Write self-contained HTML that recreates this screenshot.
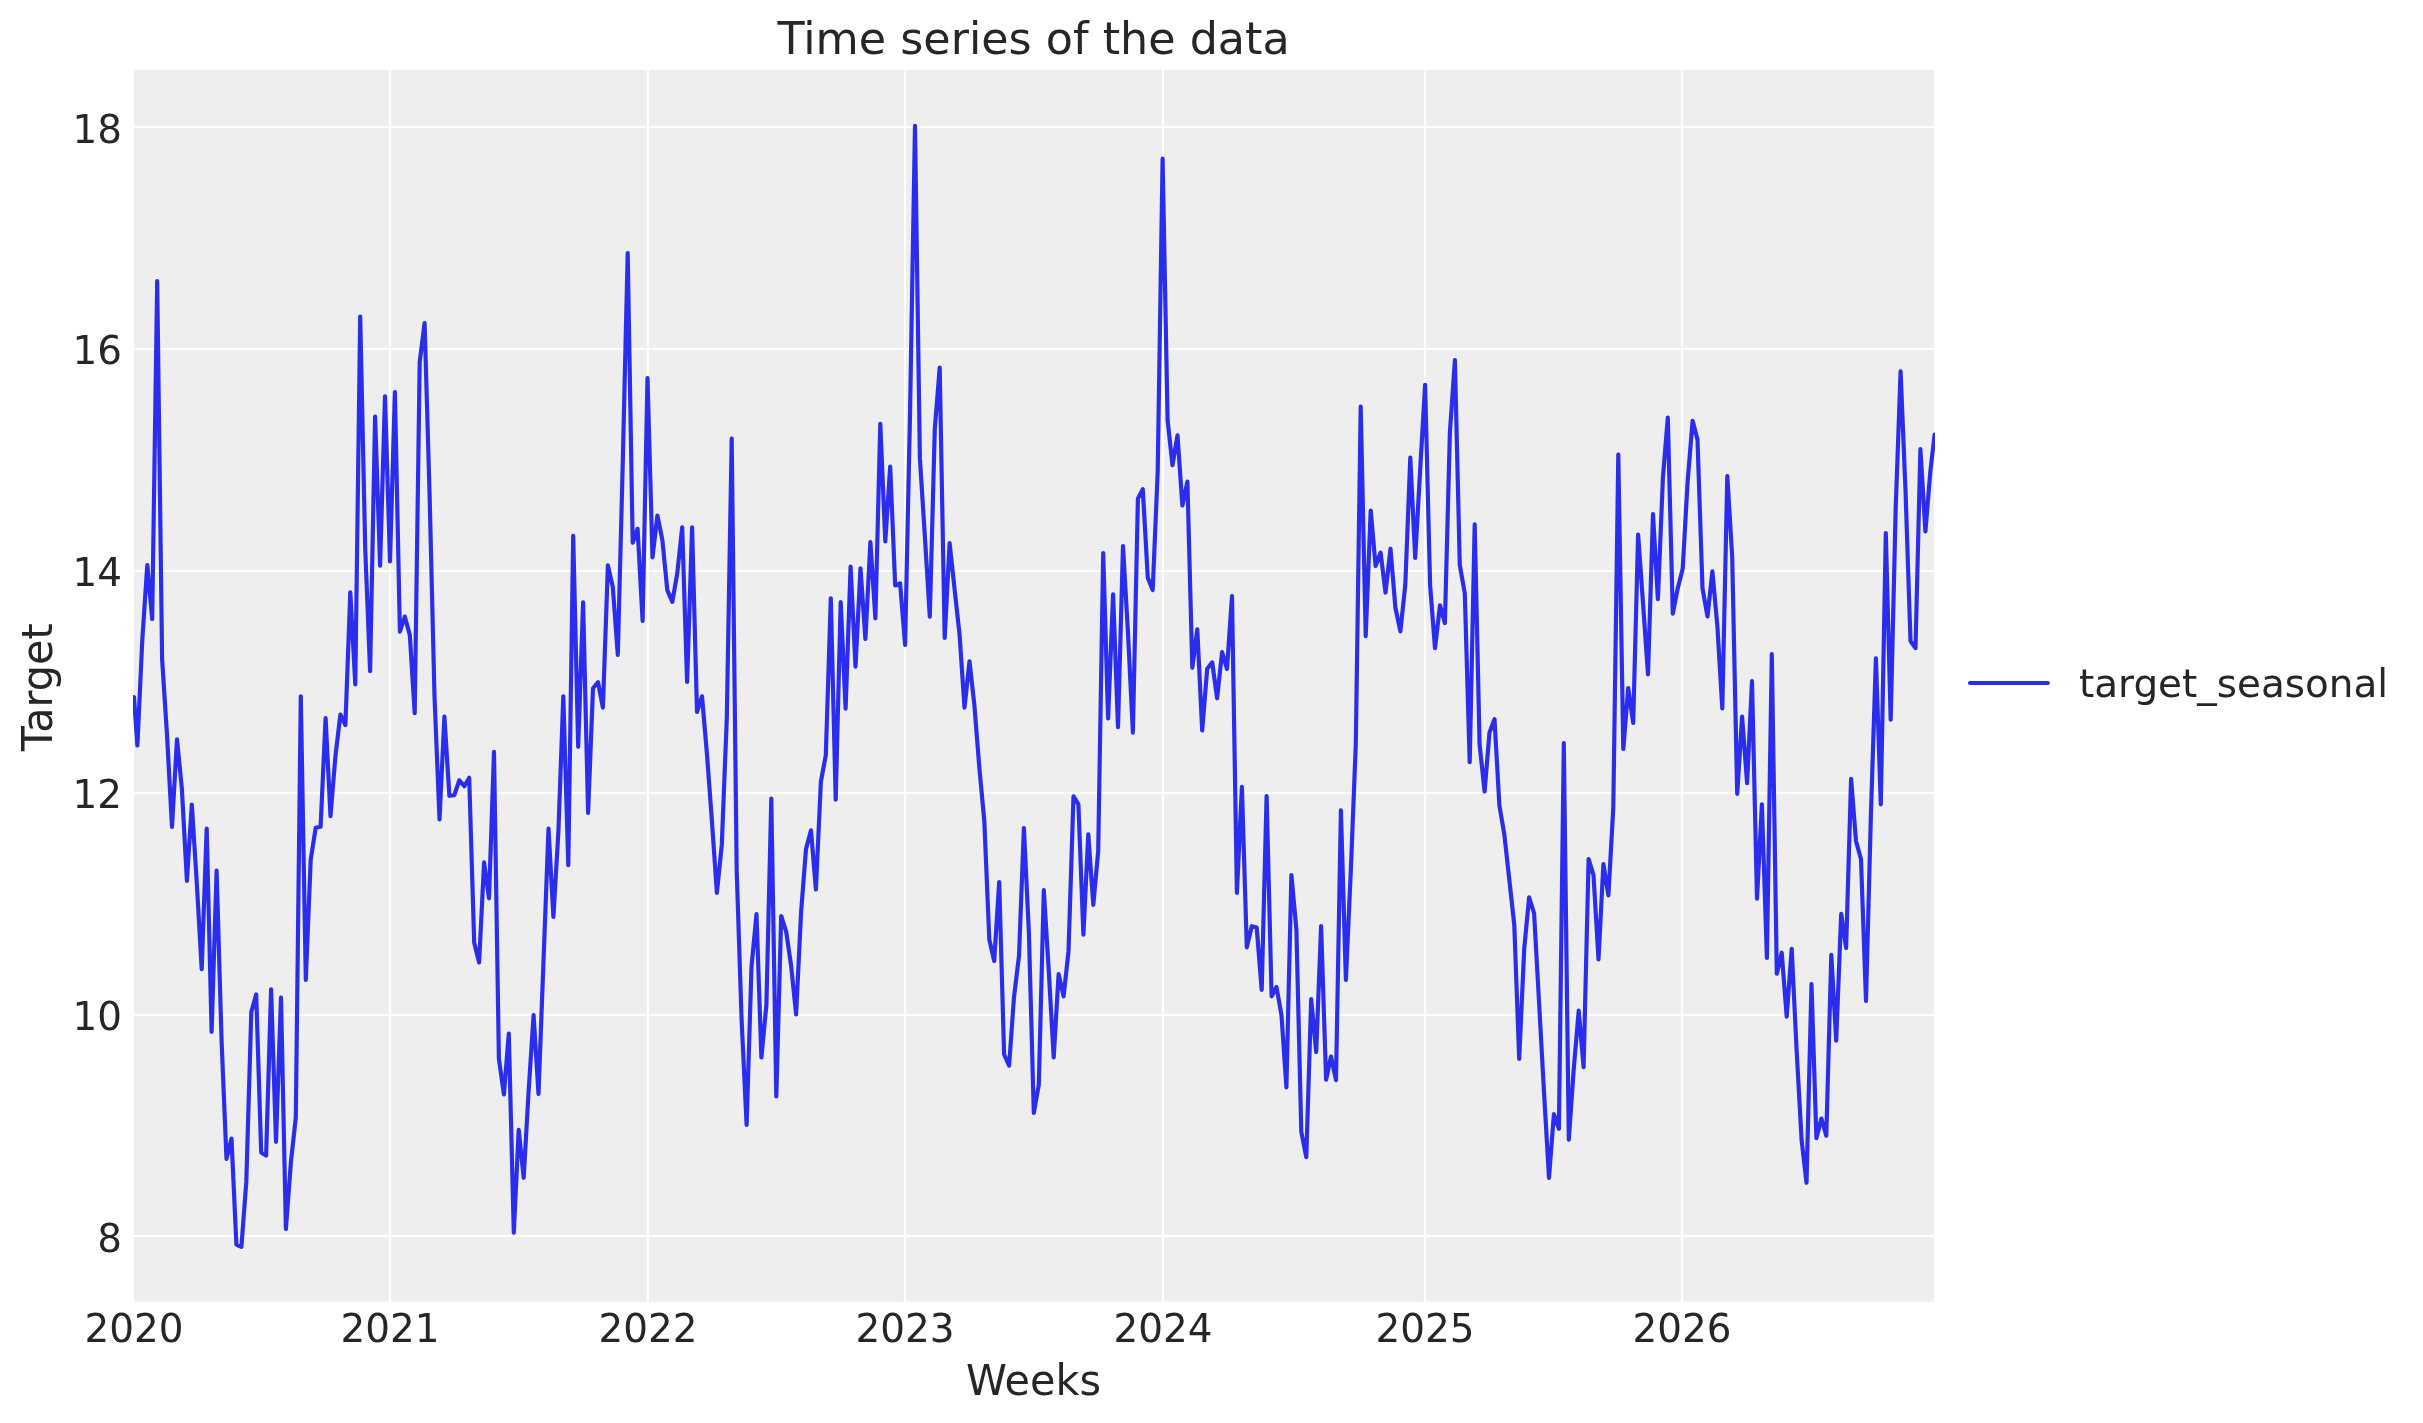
<!DOCTYPE html>
<html><head><meta charset="utf-8"><title>Time series of the data</title>
<style>
html,body{margin:0;padding:0;background:#fff;}
svg{display:block;will-change:transform;font-family:"DejaVu Sans","Liberation Sans",sans-serif;fill:#262626;}
.tick{font-size:38.9px;}
.lab{font-size:42.6px;}
.ttl{font-size:44.4px;}
</style></head><body>
<svg width="2423" height="1423" viewBox="0 0 2423 1423">
<rect x="0" y="0" width="2423" height="1423" fill="#ffffff"/>
<defs><clipPath id="ax"><rect x="134.0" y="70.0" width="1800.0" height="1231.7"/></clipPath><clipPath id="ln"><rect x="133.0" y="70.0" width="1802.0" height="1231.7"/></clipPath></defs>
<rect x="134.0" y="70.0" width="1800.0" height="1231.7" fill="#eeeeee"/>
<g stroke="#ffffff" stroke-width="2.22" clip-path="url(#ax)"><line x1="134.0" x2="1934.0" y1="127" y2="127"/><line x1="134.0" x2="1934.0" y1="349" y2="349"/><line x1="134.0" x2="1934.0" y1="571" y2="571"/><line x1="134.0" x2="1934.0" y1="793" y2="793"/><line x1="134.0" x2="1934.0" y1="1015" y2="1015"/><line x1="134.0" x2="1934.0" y1="1236" y2="1236"/><line x1="390.0" x2="390.0" y1="70.0" y2="1301.7"/><line x1="648.0" x2="648.0" y1="70.0" y2="1301.7"/><line x1="905.0" x2="905.0" y1="70.0" y2="1301.7"/><line x1="1163.0" x2="1163.0" y1="70.0" y2="1301.7"/><line x1="1425.0" x2="1425.0" y1="70.0" y2="1301.7"/><line x1="1682.0" x2="1682.0" y1="70.0" y2="1301.7"/></g>
<polyline clip-path="url(#ln)" fill="none" stroke="#2a2eec" stroke-width="4.17" stroke-linejoin="round" stroke-linecap="round" points="134.0,697.2 137.4,745.5 142.3,640.0 147.3,565.0 152.2,619.0 157.2,281.1 162.1,658.8 167.1,736.4 172.0,826.8 177.0,739.3 181.9,789.1 186.9,880.8 191.8,804.6 196.8,883.2 201.7,969.1 206.7,828.6 211.6,1031.8 216.6,870.6 221.6,1041.4 226.5,1158.8 231.5,1138.6 236.4,1244.5 241.4,1246.9 246.3,1181.9 251.3,1012.0 256.2,994.4 261.2,1152.5 266.1,1155.6 271.1,989.4 276.0,1141.8 281.0,997.7 285.9,1229.0 290.9,1162.3 295.8,1117.6 300.8,696.3 305.8,980.0 310.7,859.9 315.7,827.7 320.6,826.8 325.6,718.1 330.5,816.1 335.5,755.4 340.4,714.5 345.4,725.0 350.3,592.4 355.3,684.3 360.2,316.5 365.2,547.7 370.1,671.2 375.1,416.6 380.1,565.6 385.0,396.4 390.0,561.4 394.9,392.0 399.9,631.6 404.8,616.6 409.8,634.9 414.7,713.1 419.7,362.0 424.6,323.0 429.6,495.0 434.5,696.0 439.5,819.4 444.4,716.6 449.4,795.8 454.3,795.2 459.3,780.3 464.3,786.2 469.2,777.7 474.2,942.7 479.1,962.5 484.1,862.4 489.0,898.3 494.0,751.9 498.9,1058.8 503.9,1094.5 508.8,1033.6 513.8,1232.7 518.7,1129.9 523.7,1177.8 528.6,1091.5 533.6,1015.1 538.5,1093.9 543.5,961.2 548.5,828.6 553.4,916.8 558.4,831.6 563.3,696.3 568.3,865.1 573.2,535.8 578.2,746.8 583.1,602.4 588.1,812.9 593.0,688.3 598.0,682.2 602.9,707.6 607.9,565.4 612.8,587.0 617.8,654.9 622.7,465.4 627.7,253.0 632.7,542.7 637.6,528.8 642.6,620.9 647.5,378.1 652.5,557.3 657.4,515.5 662.4,540.1 667.3,590.2 672.3,601.8 677.2,573.9 682.2,527.3 687.1,681.9 692.1,527.3 697.0,712.0 702.0,696.3 706.9,753.2 711.9,820.7 716.9,892.8 721.8,844.7 726.8,718.3 731.7,438.6 736.7,870.8 741.6,1019.6 746.6,1125.0 751.5,966.7 756.5,914.2 761.4,1057.5 766.4,1005.0 771.3,798.7 776.3,1096.5 781.2,916.0 786.2,931.8 791.1,965.6 796.1,1014.4 801.1,912.2 806.0,849.0 811.0,830.3 815.9,889.5 820.9,781.5 825.8,755.4 830.8,598.3 835.7,799.6 840.7,602.0 845.6,708.7 850.6,566.5 855.5,666.7 860.5,568.3 865.4,639.0 870.4,542.1 875.4,618.3 880.3,423.8 885.3,541.4 890.2,466.5 895.2,585.5 900.1,583.4 905.1,644.9 910.0,415.0 915.0,125.8 919.9,458.4 924.9,536.9 929.8,616.6 934.8,429.0 939.7,367.6 944.7,637.9 949.6,543.2 954.6,589.2 959.6,634.9 964.5,707.6 969.5,661.3 974.4,705.3 979.4,768.4 984.3,820.7 989.3,939.5 994.2,961.0 999.2,882.0 1004.1,1054.5 1009.1,1065.6 1014.0,997.2 1019.0,955.8 1023.9,828.2 1028.9,932.9 1033.8,1113.0 1038.8,1085.0 1043.8,890.2 1048.7,969.5 1053.7,1057.5 1058.6,974.1 1063.6,996.3 1068.5,951.4 1073.5,796.3 1078.4,804.4 1083.4,934.6 1088.3,834.3 1093.3,904.8 1098.2,851.2 1103.2,553.0 1108.1,718.5 1113.1,594.4 1118.0,727.2 1123.0,546.0 1128.0,633.0 1132.9,732.7 1137.9,498.7 1142.8,489.2 1147.8,577.8 1152.7,590.0 1157.7,471.5 1162.6,158.7 1167.6,420.3 1172.5,465.2 1177.5,435.4 1182.4,505.5 1187.4,481.6 1192.3,667.8 1197.3,629.3 1202.2,730.5 1207.2,668.7 1212.2,662.4 1217.1,698.3 1222.1,652.1 1227.0,668.9 1232.0,596.1 1236.9,892.8 1241.9,786.8 1246.8,947.3 1251.8,926.2 1256.7,927.5 1261.7,989.8 1266.6,796.1 1271.6,996.3 1276.5,987.0 1281.5,1015.3 1286.4,1087.3 1291.4,875.0 1296.4,929.7 1301.3,1131.8 1306.3,1157.1 1311.2,999.2 1316.2,1052.0 1321.1,926.2 1326.1,1079.7 1331.0,1056.5 1336.0,1080.1 1340.9,810.3 1345.9,980.0 1350.8,870.8 1355.8,744.5 1360.7,406.6 1365.7,636.2 1370.7,510.5 1375.6,566.0 1380.6,552.6 1385.5,592.6 1390.5,548.7 1395.4,607.7 1400.4,631.4 1405.3,584.8 1410.3,457.6 1415.2,557.8 1420.2,469.3 1425.1,384.8 1430.1,584.8 1435.0,648.2 1440.0,605.3 1444.9,623.1 1449.9,432.3 1454.9,360.2 1459.8,565.2 1464.8,593.5 1469.7,762.1 1474.7,524.3 1479.6,744.5 1484.6,791.5 1489.5,732.5 1494.5,719.2 1499.4,805.5 1504.4,834.9 1509.3,879.5 1514.3,925.3 1519.2,1059.0 1524.2,949.3 1529.1,897.4 1534.1,913.3 1539.1,1003.0 1544.0,1092.0 1549.0,1177.8 1553.9,1114.2 1558.9,1128.7 1563.8,743.2 1568.8,1139.6 1573.7,1069.7 1578.7,1010.7 1583.6,1067.1 1588.6,859.1 1593.5,875.2 1598.5,959.3 1603.4,864.1 1608.4,895.4 1613.3,807.6 1618.3,454.5 1623.3,749.0 1628.2,688.1 1633.2,722.9 1638.1,534.5 1643.1,604.4 1648.0,674.3 1653.0,514.2 1657.9,599.1 1662.9,478.0 1667.8,417.7 1672.8,613.6 1677.7,588.4 1682.7,568.8 1687.6,482.0 1692.6,420.9 1697.5,439.6 1702.5,588.4 1707.5,616.5 1712.4,571.4 1717.4,626.5 1722.3,708.4 1727.3,476.0 1732.2,556.8 1737.2,793.8 1742.1,716.7 1747.1,783.1 1752.0,681.2 1757.0,898.6 1761.9,804.3 1766.9,958.0 1771.8,654.2 1776.8,973.7 1781.7,952.7 1786.7,1016.6 1791.7,948.9 1796.6,1050.0 1801.6,1140.0 1806.5,1182.8 1811.5,984.2 1816.4,1138.2 1821.4,1118.6 1826.3,1135.7 1831.3,954.8 1836.2,1040.7 1841.2,913.9 1846.1,948.0 1851.1,778.8 1856.0,841.0 1861.0,859.2 1866.0,1001.0 1870.9,815.0 1875.9,658.3 1880.8,804.3 1885.8,533.1 1890.7,719.7 1895.7,508.0 1900.6,371.4 1905.6,493.0 1910.5,641.1 1915.5,648.1 1920.4,449.2 1925.4,531.3 1930.3,472.0 1934.6,434.5"/>
<g class="tick"><text x="133.9" y="1342" text-anchor="middle">2020</text><text x="390.0" y="1342" text-anchor="middle">2021</text><text x="648.0" y="1342" text-anchor="middle">2022</text><text x="905.0" y="1342" text-anchor="middle">2023</text><text x="1163.0" y="1342" text-anchor="middle">2024</text><text x="1425.0" y="1342" text-anchor="middle">2025</text><text x="1682.0" y="1342" text-anchor="middle">2026</text><text x="122.1" y="1251.6" text-anchor="end">8</text><text x="122.1" y="1029.8" text-anchor="end">10</text><text x="122.1" y="808.0" text-anchor="end">12</text><text x="122.1" y="586.2" text-anchor="end">14</text><text x="122.1" y="364.4" text-anchor="end">16</text><text x="122.1" y="142.6" text-anchor="end">18</text></g>
<text class="ttl" x="1033.6" y="54" text-anchor="middle">Time series of the data</text>
<text class="lab" x="1033.6" y="1394.9" text-anchor="middle" textLength="135.0" lengthAdjust="spacingAndGlyphs">Weeks</text>
<text class="lab" transform="translate(51.7,687.3) rotate(-90)" text-anchor="middle" textLength="127.9" lengthAdjust="spacingAndGlyphs">Target</text>
<line x1="1970" x2="2047.8" y1="683" y2="683" stroke="#2a2eec" stroke-width="4.17" stroke-linecap="round"/>
<text class="tick" x="2079" y="697">target_seasonal</text>
</svg>
</body></html>
